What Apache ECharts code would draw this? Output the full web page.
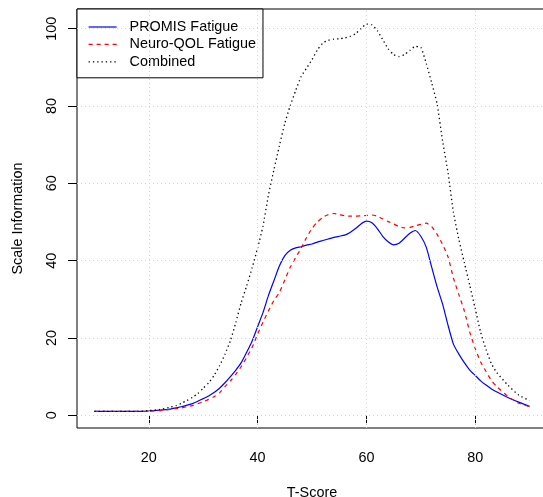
<!DOCTYPE html>
<html>
<head>
<meta charset="utf-8">
<script src="https://cdn.jsdelivr.net/npm/echarts@6/dist/echarts.min.js"></script>
<style>
  html, body { margin: 0; padding: 0; background: #fff; }
  #chart { width: 543px; height: 497px; }
</style>
</head>
<body>
<div id="chart"></div>
<script>
// T-score grid the curves were read on
var tScores = [10, 12, 14, 16, 18, 20, 22,
  24, 25, 26, 27, 28, 29, 30, 31, 32, 33, 34, 35, 36, 37, 38, 39,
  40, 41, 42, 43, 44, 45, 46, 47, 48, 49, 50, 51, 52, 53, 54, 55, 56, 57, 58, 59,
  60, 61, 62, 63, 64, 65, 66, 67, 68, 69, 70, 71, 72, 73, 74, 75, 76, 77, 78, 79,
  80, 81, 82, 83, 84, 86, 88, 90];

var promisInfo = [1.0, 1.0, 1.0, 1.0, 1.0, 1.1, 1.3,
  1.6, 1.9, 2.2, 2.6, 3.0, 3.6, 4.3, 5.0, 5.9, 7.0, 8.4, 10.0, 11.7, 13.6, 16.3, 19.2,
  22.9, 26.6, 31.0, 34.8, 38.6, 41.3, 42.7, 43.3, 43.6, 44.0, 44.3, 44.8, 45.2, 45.6, 46.0, 46.3, 46.6, 47.3, 48.3, 49.5,
  50.2, 49.8, 48.3, 46.3, 44.9, 44.1, 44.5, 45.8, 47.1, 47.8, 46.3, 43.5, 38.3, 33.2, 28.8, 23.3, 18.4, 15.8, 13.6, 11.7,
  10.3, 8.9, 7.8, 6.8, 6.0, 4.6, 3.4, 2.3];

var neuroQolInfo = [1.0, 1.0, 1.0, 1.0, 1.0, 1.05, 1.2,
  1.5, 1.7, 1.9, 2.2, 2.5, 3.0, 3.5, 4.1, 4.8, 5.8, 7.4, 8.9, 10.6, 12.6, 15.0, 17.6,
  21.0, 24.1, 27.0, 29.7, 31.8, 35.0, 38.3, 40.8, 43.2, 46.0, 48.3, 50.0, 51.2, 51.9, 52.2, 51.9, 51.6, 51.5, 51.5, 51.6,
  51.7, 51.8, 51.5, 50.8, 50.1, 49.5, 48.8, 48.5, 48.6, 49.0, 49.4, 49.7, 48.8, 46.8, 44.2, 41.0, 35.5, 31.2, 27.0, 21.5,
  17.3, 13.8, 11.3, 9.0, 7.4, 4.9, 3.1, 2.2];

var combinedInfo = [1.0, 1.0, 1.0, 1.0, 1.0, 1.2, 1.5,
  2.1, 2.5, 3.1, 3.8, 4.6, 5.6, 7.0, 8.4, 10.3, 12.8, 15.8, 19.3, 24.0, 29.2, 33.5, 38.2,
  43.2, 49.0, 57.0, 63.5, 69.7, 75.5, 80.1, 84.0, 87.6, 89.8, 92.0, 94.5, 96.3, 97.0, 97.3, 97.4, 97.6, 98.0, 98.7, 100.0,
  101.2, 101.0, 99.5, 97.2, 94.8, 93.3, 92.8, 93.3, 94.4, 95.4, 95.2, 91.0, 86.0, 80.5, 71.0, 62.8, 52.5, 45.5, 39.5, 33.6,
  27.6, 21.5, 17.0, 13.3, 11.0, 7.8, 5.2, 3.8];

var xTicks = [20, 40, 60, 80];
var yTicks = [0, 20, 40, 60, 80, 100];

var seriesNames = ['PROMIS Fatigue', 'Neuro-QOL Fatigue', 'Combined'];

function pairs(values) {
  return tScores.map(function (t, i) { return [t, values[i]]; });
}

var font = 'Liberation Sans, Arial, sans-serif';
var fs = 14.4;

var chart = echarts.init(document.getElementById('chart'), null, { renderer: 'canvas' });

// grid lines like R's grid(): light gray dotted
var gridLines = [];
xTicks.forEach(function (v) { gridLines.push({ xAxis: v }); });
yTicks.forEach(function (v) { gridLines.push({ yAxis: v }); });

chart.setOption({
  backgroundColor: '#fff',
  animation: false,
  textStyle: { fontFamily: font, color: '#000' },
  grid: {
    left: 77,
    top: 9,
    right: -4,
    bottom: 69,
    show: true,
    borderColor: '#000',
    borderWidth: 1,
    backgroundColor: 'transparent',
    outerBoundsMode: 'none'
  },
  legend: {
    data: seriesNames,
    orient: 'vertical',
    left: 77,
    top: 9,
    padding: [11, 7, 9, 11],
    itemWidth: 28,
    itemHeight: 14,
    itemGap: 3.4,
    borderColor: '#000',
    borderWidth: 1,
    borderRadius: 0,
    backgroundColor: '#fff',
    // hide the symbol in the middle of each legend line
    itemStyle: { color: 'rgba(0,0,0,0)', borderWidth: 0, opacity: 0 },
    lineStyle: { width: 1.2 },
    textStyle: { fontFamily: font, fontSize: fs, color: '#000', padding: [0, 0, 0, 8] }
  },
  xAxis: {
    type: 'value',
    min: 6.8,
    max: 93.2,
    name: 'T-Score',
    nameLocation: 'middle',
    nameGap: 58,
    nameTextStyle: { fontFamily: font, fontSize: fs, color: '#000' },
    axisLine: { show: false },
    axisTick: {
      show: true,
      inside: false,
      length: 9,
      customValues: xTicks,
      lineStyle: { color: '#000', width: 1 }
    },
    axisLabel: {
      customValues: xTicks,
      margin: 23,
      fontFamily: font,
      fontSize: fs,
      color: '#000'
    },
    splitLine: { show: false }
  },
  yAxis: {
    type: 'value',
    min: -3.3,
    max: 105.1,
    name: 'Scale Information',
    nameLocation: 'middle',
    nameGap: 52,
    nameTextStyle: { fontFamily: font, fontSize: fs, color: '#000' },
    axisLine: { show: false },
    axisTick: {
      show: true,
      inside: false,
      length: 9,
      customValues: yTicks,
      lineStyle: { color: '#000', width: 1 }
    },
    axisLabel: {
      customValues: yTicks,
      rotate: 90,
      margin: 18,
      fontFamily: font,
      fontSize: fs,
      color: '#000'
    },
    splitLine: { show: false }
  },
  series: [
    {
      name: 'grid',
      type: 'line',
      data: [],
      z: 1,
      silent: true,
      markLine: {
        silent: true,
        symbol: 'none',
        label: { show: false },
        lineStyle: { color: '#d3d3d3', width: 1, type: [1, 3] },
        data: gridLines
      }
    },
    {
      name: seriesNames[0],
      type: 'line',
      data: pairs(promisInfo),
      symbol: 'none',
      smooth: 0.2,
      z: 3,
      lineStyle: { color: '#0000ff', width: 1.2, type: 'solid' },
      itemStyle: { color: '#0000ff' }
    },
    {
      name: seriesNames[1],
      type: 'line',
      data: pairs(neuroQolInfo),
      symbol: 'none',
      smooth: 0.2,
      z: 3,
      lineStyle: { color: '#ff0000', width: 1.2, type: [4, 4] },
      itemStyle: { color: '#ff0000' }
    },
    {
      name: seriesNames[2],
      type: 'line',
      data: pairs(combinedInfo),
      symbol: 'none',
      smooth: 0.2,
      z: 3,
      lineStyle: { color: '#000000', width: 1.3, type: [1.3, 3] },
      itemStyle: { color: '#000000' }
    }
  ]
});

window.onresize = chart.resize;
</script>
</body>
</html>
